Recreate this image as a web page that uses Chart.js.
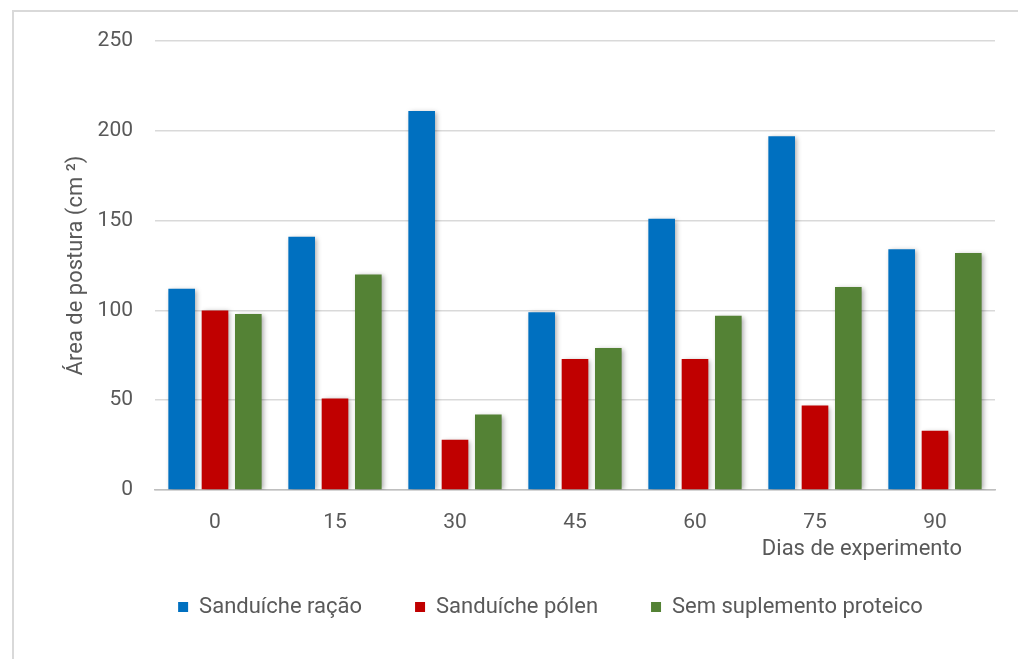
<!DOCTYPE html>
<html>
<head>
<meta charset="utf-8">
<script src="https://cdn.jsdelivr.net/npm/chart.js@4.4.1/dist/chart.umd.min.js"></script>
<style>
  html, body { margin: 0; padding: 0; background: #fff; }
  #wrap { position: relative; width: 1018px; height: 659px; overflow: hidden; }
  #frame { position: absolute; left: 12px; top: 10px; width: 1100px; height: 700px;
           border-top: 2px solid #d9d9d9; border-left: 2px solid #d9d9d9; }
  canvas { position: absolute; left: 0; top: 0; }
</style>
</head>
<body>
<div id="wrap">
  <div id="frame"></div>
  <canvas id="chart" width="1018" height="659"></canvas>
</div>
<script>
// Days of experiment
const days = ['0', '15', '30', '45', '60', '75', '90'];
const seriesNames = ['Sanduíche ração', 'Sanduíche pólen', 'Sem suplemento proteico'];
const racao = [112, 141, 211, 99, 151, 197, 134];
const polen = [100, 51, 28, 73, 73, 47, 33];
const semSuplemento = [98, 120, 42, 79, 97, 113, 132];
const colors = ['#0070C0', '#C00000', '#548235'];

const fontFamily = 'Roboto, "Open Sans", sans-serif';
const grey = '#595959';

// soft shadow behind bars, like the original spreadsheet chart
const barShadow = {
  id: 'barShadow',
  beforeDatasetsDraw(chart) {
    const ctx = chart.ctx;
    ctx.save();
    ctx.shadowColor = 'rgba(0,0,0,0.35)';
    ctx.shadowBlur = 5;
    ctx.shadowOffsetX = 2;
    ctx.shadowOffsetY = 1;
  },
  afterDatasetsDraw(chart) {
    chart.ctx.restore();
  }
};

// legend in the original is centred a bit right of the canvas middle
const legendShift = {
  id: 'legendShift',
  afterLayout(chart) {
    chart.legend.left += 46;
    chart.legend.right += 46;
  }
};

// x-axis title sits under the last labels, right-aligned
const xTitle = {
  id: 'xTitle',
  afterDraw(chart) {
    const ctx = chart.ctx;
    const area = chart.chartArea;
    ctx.save();
    ctx.font = '22px ' + fontFamily;
    ctx.fillStyle = grey;
    ctx.textAlign = 'right';
    ctx.textBaseline = 'middle';
    ctx.fillText('Dias de experimento', area.right - 33, area.bottom + 59);
    ctx.restore();
  }
};

new Chart(document.getElementById('chart'), {
  type: 'bar',
  data: {
    labels: days,
    datasets: [
      { label: seriesNames[0], data: racao, backgroundColor: colors[0] },
      { label: seriesNames[1], data: polen, backgroundColor: colors[1] },
      { label: seriesNames[2], data: semSuplemento, backgroundColor: colors[2] }
    ]
  },
  options: {
    responsive: false,
    animation: false,
    devicePixelRatio: 1,
    datasets: { bar: { categoryPercentage: 0.833, barPercentage: 0.8 } },
    layout: { padding: { top: 41, right: 23, bottom: 31, left: 14 } },
    plugins: {
      tooltip: { enabled: false },
      legend: {
        position: 'bottom',
        labels: {
          font: { family: fontFamily, size: 22 },
          color: grey,
          boxWidth: 10,
          boxHeight: 10,
          padding: 53
        }
      }
    },
    scales: {
      x: {
        grid: { display: false },
        border: { color: '#bfbfbf', width: 1.5 },
        ticks: { font: { family: fontFamily, size: 21 }, color: grey, padding: 12 },
        afterFit(scale) { scale.height = 53; }
      },
      y: {
        min: 0,
        max: 250,
        ticks: { stepSize: 50, font: { family: fontFamily, size: 21 }, color: grey, padding: 22 },
        grid: { color: '#d9d9d9', lineWidth: 1.5, drawTicks: false },
        border: { display: false },
        title: {
          display: true,
          text: 'Área de postura (cm ²)',
          font: { family: fontFamily, size: 22 },
          color: grey,
          padding: { top: 49, bottom: 0 }
        },
        afterFit(scale) { scale.width = 141; }
      }
    }
  },
  plugins: [barShadow, legendShift, xTitle]
});
</script>
</body>
</html>
